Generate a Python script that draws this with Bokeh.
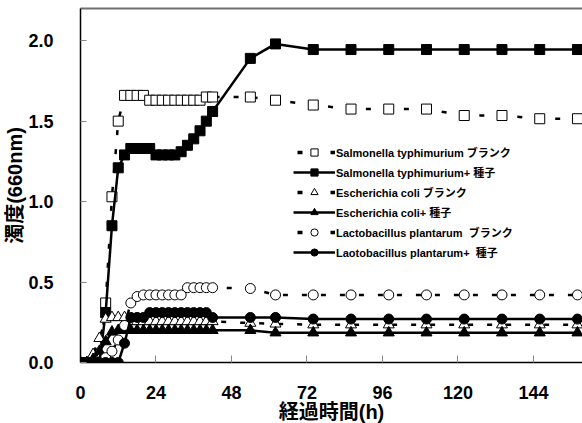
from bokeh.plotting import figure
from bokeh.models import (Range1d, FixedTicker, PrintfTickFormatter, Legend,
                          LegendItem, LinearAxis, Title)
from bokeh.embed import file_html
from bokeh.resources import INLINE

# ---------------- data ----------------
hours = [0, 2, 4, 6, 8, 10, 12, 14, 16, 18, 20, 22, 24, 26, 28, 30, 32, 34, 36, 38, 40, 42,
         54, 62, 74, 86, 98, 110, 122, 134, 146, 158]

salm_blank = [0, 0, 0, 0, 0.37, 1.03, 1.50, 1.66, 1.66, 1.66, 1.66, 1.63, 1.63, 1.63, 1.63,
              1.63, 1.63, 1.63, 1.63, 1.63, 1.65, 1.65,
              1.65, 1.63, 1.60, 1.575, 1.575, 1.575, 1.535, 1.535, 1.515, 1.515]
salm_seed = [0, 0, 0, 0, 0.31, 0.85, 1.21, 1.29, 1.33, 1.33, 1.33, 1.33, 1.29, 1.29, 1.29,
             1.29, 1.31, 1.35, 1.39, 1.44, 1.50, 1.56,
             1.89, 1.98, 1.945, 1.945, 1.945, 1.945, 1.945, 1.945, 1.945, 1.945]
coli_blank = [0, 0, 0.05, 0.15, 0.27, 0.28, 0.28, 0.28, 0.255, 0.255, 0.255, 0.255, 0.255,
              0.255, 0.255, 0.255, 0.255, 0.255, 0.255, 0.255, 0.255, 0.255,
              0.245, 0.24, 0.235, 0.235, 0.235, 0.235, 0.235, 0.235, 0.235, 0.235]
coli_seed = [0, 0, 0.02, 0.07, 0.13, 0.19, 0.20, 0.20, 0.20, 0.20, 0.20, 0.20, 0.20, 0.20,
             0.20, 0.20, 0.20, 0.20, 0.20, 0.20, 0.20, 0.20,
             0.20, 0.185, 0.185, 0.185, 0.185, 0.185, 0.185, 0.185, 0.185, 0.185]
lacto_blank = [0, 0, 0, 0, 0.03, 0.07, 0.14, 0.23, 0.37, 0.41, 0.42, 0.42, 0.42, 0.42, 0.42,
               0.42, 0.42, 0.465, 0.465, 0.465, 0.465, 0.465,
               0.46, 0.42, 0.42, 0.42, 0.42, 0.42, 0.42, 0.42, 0.42, 0.42]
lacto_seed = [0, 0, 0, 0, 0, 0, 0, 0.12, 0.28, 0.28, 0.28, 0.31, 0.31, 0.31, 0.31, 0.31,
              0.31, 0.31, 0.31, 0.31, 0.31, 0.28,
              0.28, 0.28, 0.27, 0.27, 0.27, 0.27, 0.27, 0.27, 0.27, 0.27]

x_ticks = [0, 24, 48, 72, 96, 120, 144]
y_ticks = [0.0, 0.5, 1.0, 1.5, 2.0]

labels = ["Salmonella typhimurium ブランク",
          "Salmonella typhimurium+ 種子",
          "Escherichia coli ブランク",
          "Escherichia coli+ 種子",
          "Lactobacillus plantarum  ブランク",
          "Laotobacillus plantarum+  種子"]

x_label = "経過時間(h)"
y_label = "濁度(660nm)"

# ---------------- figure ----------------
p = figure(width=582, height=423, output_backend="svg", toolbar_location=None,
           x_range=Range1d(0, 159.6), y_range=Range1d(0, 2.2),
           min_border_left=80, min_border_right=0, min_border_top=8,
           min_border_bottom=61)
p.outline_line_color = None
p.grid.visible = False
p.background_fill_color = "white"
p.border_fill_color = "white"

tick_font = "Liberation Sans"
title_font = "Liberation Sans, Noto Sans CJK JP"

ax = p.xaxis[0]
ax.ticker = FixedTicker(ticks=x_ticks)
ax.axis_line_color = "black"
ax.axis_line_width = 1.5
ax.major_tick_in = 7
ax.major_tick_out = 0
ax.major_tick_line_color = "#888888"
ax.minor_tick_line_color = None
ax.major_label_text_font = tick_font
ax.major_label_text_font_style = "bold"
ax.major_label_text_font_size = "18px"
ax.major_label_text_color = "black"
ax.major_label_standoff = 23

ay = p.yaxis[0]
ay.ticker = FixedTicker(ticks=y_ticks)
ay.formatter = PrintfTickFormatter(format="%.1f")
ay.axis_line_color = "black"
ay.axis_line_width = 1.5
ay.major_tick_in = 6
ay.major_tick_out = 0
ay.major_tick_line_color = "#888888"
ay.minor_tick_line_color = None
ay.major_label_text_font = tick_font
ay.major_label_text_font_style = "bold"
ay.major_label_text_font_size = "18px"
ay.major_label_text_color = "black"
ay.major_label_standoff = 27

top = LinearAxis(ticker=FixedTicker(ticks=[]), axis_line_color="#707070",
                 axis_line_width=2, major_tick_line_color=None,
                 minor_tick_line_color=None)
p.add_layout(top, "above")

# axis titles as side-panel titles
xt = Title(text=x_label, align="center", text_font=title_font,
           text_font_style="bold", text_font_size="20px", text_color="black",
           standoff=-6)
yt = Title(text=y_label, align="center", text_font=title_font,
           text_font_style="bold", text_font_size="20px", text_color="black",
           standoff=0)
p.add_layout(xt, "below")
p.add_layout(yt, "left")

# ---------------- series ----------------
LW = 2.5
DASH = "5 14"
BW = 1.0

r1l = p.line(hours, salm_blank, line_color="black", line_width=LW, line_dash=DASH)
r1m = p.scatter(hours, salm_blank, marker="square", size=10, fill_color="white",
                line_color="black", line_width=BW)
r2l = p.line(hours, salm_seed, line_color="black", line_width=LW)
r2m = p.scatter(hours, salm_seed, marker="square", size=10, fill_color="black",
                line_color="black", line_width=BW)
r3l = p.line(hours, coli_blank, line_color="black", line_width=LW, line_dash=DASH)
r3m = p.scatter(hours, coli_blank, marker="triangle", size=11, fill_color="white",
                line_color="black", line_width=BW)
r4l = p.line(hours, coli_seed, line_color="black", line_width=LW)
r4m = p.scatter(hours, coli_seed, marker="triangle", size=11, fill_color="black",
                line_color="black", line_width=BW)
r5l = p.line(hours, lacto_blank, line_color="black", line_width=LW, line_dash=DASH)
r5m = p.scatter(hours, lacto_blank, marker="circle", size=10, fill_color="white",
                line_color="black", line_width=BW)
r6l = p.line(hours, lacto_seed, line_color="black", line_width=LW)
r6m = p.scatter(hours, lacto_seed, marker="circle", size=10, fill_color="black",
                line_color="black", line_width=BW)

# legend-only dashed line (placed outside the visible range)
leg_dash = p.line([-20, -10], [-1, -1], line_color="black", line_width=3.5,
                  line_dash="5 28", line_dash_offset=29)

items = [
    LegendItem(label=labels[0], renderers=[leg_dash, r1m]),
    LegendItem(label=labels[1], renderers=[r2l, r2m]),
    LegendItem(label=labels[2], renderers=[leg_dash, r3m]),
    LegendItem(label=labels[3], renderers=[r4l, r4m]),
    LegendItem(label=labels[4], renderers=[leg_dash, r5m]),
    LegendItem(label=labels[5], renderers=[r6l, r6m]),
]
legend = Legend(items=items, location=(213, 101), orientation="vertical",
                glyph_width=42, glyph_height=18, label_height=18, spacing=2,
                padding=0, margin=0, label_standoff=1,
                border_line_color=None, background_fill_alpha=0,
                label_text_font="Liberation Sans, Noto Sans CJK JP",
                label_text_font_style="bold", label_text_font_size="11px",
                label_text_color="black")
p.add_layout(legend)

open("out.html", "w").write(file_html(p, INLINE))
